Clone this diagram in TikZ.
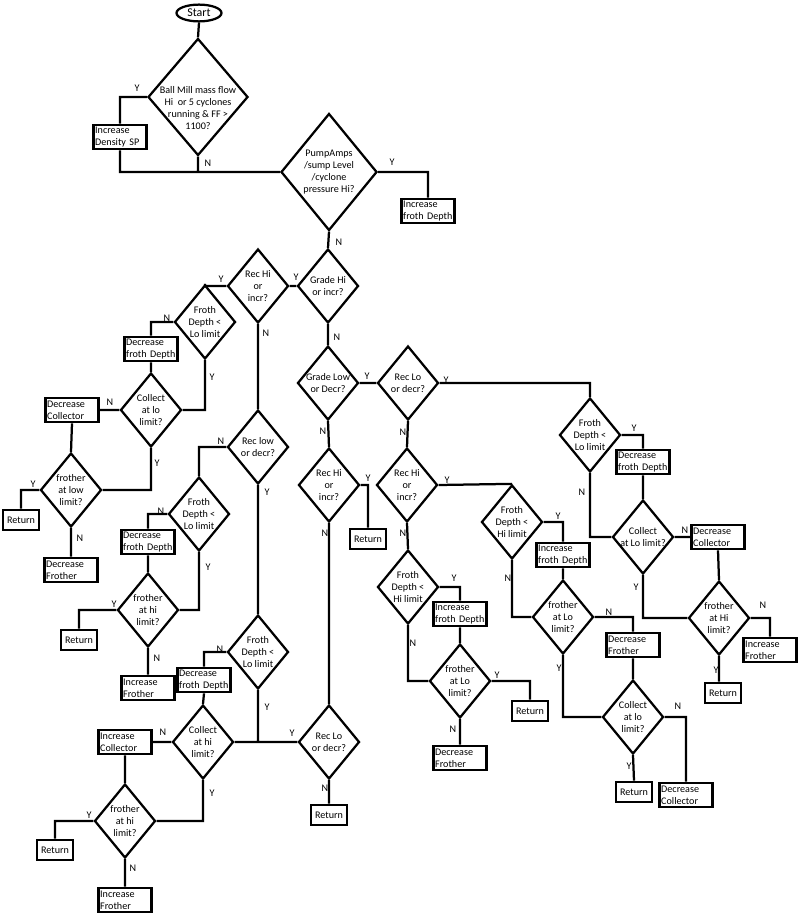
\documentclass[tikz,border=0pt]{standalone}
\usepackage{fontspec}
\setmainfont{Carlito}
\usetikzlibrary{shapes.geometric}
\begin{document}
\begin{tikzpicture}[x=0.025cm,y=-0.025cm,line width=1.6pt,
 font=\fontsize{7.2}{8.5}\selectfont,
 dec/.style={diamond,draw,inner sep=0pt,minimum width=1.525cm,minimum height=1.85cm},
 act/.style={rectangle,draw,line width=1.9pt,fill=white,text width=1.24cm,inner sep=1.2pt,minimum height=0.6cm,align=left},
 ret/.style={rectangle,draw,line width=1.9pt,fill=white,inner sep=1.5pt,minimum width=0.9cm,minimum height=0.5cm},
 txt/.style={align=center,inner sep=0pt}]
\useasboundingbox (0,0) rectangle (800,914);
\node[ellipse,draw,inner sep=0pt,minimum width=1.125cm,minimum height=0.42cm,font=\fontsize{8.5}{10}\selectfont] (start) at (199,13) {Start};
\node[dec,minimum width=2.5cm,minimum height=2.925cm,label={[txt,yshift=-0.28cm]center:{Ball Mill mass flow\\Hi~~or 5 cyclones\\running \& FF >\\1100?}}] (d1) at (198,97) {};
\node[act] (bdens) at (120,137) {Increase\\Density SP};
\node[dec,minimum width=2.4cm,minimum height=2.925cm,label={[txt]center:{PumpAmps\\/sump Level\\/cyclone\\pressure Hi?}}] (d2) at (329,172) {};
\node[act] (bfi1) at (428,211) {Increase\\froth Depth};
\node[dec,label={[txt]center:{Grade Hi\\or incr?}}] (gh) at (328,286) {};
\node[dec,label={[txt]center:{Rec Hi\\or\\incr?}}] (rh1) at (258,286) {};
\node[dec,label={[txt]center:{Froth\\Depth <\\Lo limit}}] (fd1) at (205,322) {};
\node[act] (bfd1) at (151,349) {Decrease\\froth Depth};
\node[dec,label={[txt]center:{Collect\\at lo\\limit?}}] (cl1) at (151,410) {};
\node[act] (bdc1) at (72,410) {Decrease\\Collector};
\node[dec,label={[txt]center:{frother\\at low\\limit?}}] (fl1) at (71,490) {};
\node[ret] (ret1) at (21,520) {Return};
\node[act] (bdf1) at (71,570) {Decrease\\Frother};
\node[dec,label={[txt]center:{Rec low\\or decr?}}] (rl1) at (258,447) {};
\node[dec,label={[txt]center:{Froth\\Depth <\\Lo limit}}] (fd2) at (199,514) {};
\node[act] (bfd2) at (148,542) {Decrease\\froth Depth};
\node[dec,label={[txt]center:{frother\\at hi\\limit?}}] (fh1) at (148,610) {};
\node[ret] (ret2) at (79,640) {Return};
\node[act] (bif1) at (148,688) {Increase\\Frother};
\node[dec,label={[txt]center:{Froth\\Depth <\\Lo limit}}] (fd3) at (258,652) {};
\node[act] (bfd3) at (204,680) {Decrease\\froth Depth};
\node[dec,label={[txt]center:{Collect\\at hi\\limit?}}] (ch1) at (203,742) {};
\node[act] (bic1) at (125,742) {Increase\\Collector};
\node[dec,label={[txt]center:{frother\\at hi\\limit?}}] (fh2) at (125,821) {};
\node[ret] (ret3) at (55,850) {Return};
\node[act] (bif2) at (125,900) {Increase\\Frother};
\node[dec,label={[txt]center:{Rec Lo\\or decr?}}] (rlo2) at (329,742) {};
\node[ret] (ret4) at (329,815) {Return};
\node[dec,label={[txt]center:{Grade Low\\or Decr?}}] (gl) at (328,383) {};
\node[dec,label={[txt]center:{Rec Lo\\or decr?}}] (rlo1) at (408,383) {};
\node[dec,label={[txt]center:{Rec Hi\\or\\incr?}}] (rh2) at (329,485) {};
\node[ret] (ret5) at (368,539) {Return};
\node[dec,label={[txt]center:{Rec Hi\\or\\incr?}}] (rh3) at (407,485) {};
\node[dec,label={[txt]center:{Froth\\Depth <\\Hi limit}}] (fhm) at (408,587) {};
\node[act] (bifd1) at (460,614) {Increase\\froth Depth};
\node[dec,label={[txt]center:{frother\\at Lo\\limit?}}] (flm) at (460,681) {};
\node[ret] (ret6) at (530,711) {Return};
\node[act] (bdf2) at (460,758) {Decrease\\Frother};
\node[dec,label={[txt]center:{Froth\\Depth <\\Lo limit}}] (fdr) at (590,435) {};
\node[act] (bfd4) at (643,462) {Decrease\\froth Depth};
\node[dec,label={[txt]center:{Collect\\at Lo limit?}}] (clr) at (643,537) {};
\node[act] (bdc2) at (718,537) {Decrease\\Collector};
\node[dec,label={[txt]center:{frother\\at Hi\\limit?}}] (fhr) at (719,618) {};
\node[act] (bif3) at (770,650) {Increase\\Frother};
\node[ret] (ret7) at (723,693) {Return};
\node[dec,label={[txt]center:{Froth\\Depth <\\Hi limit}}] (fhi2) at (512,522) {};
\node[act] (bifd2) at (563,555) {Increase\\froth Depth};
\node[dec,label={[txt]center:{frother\\at Lo\\limit?}}] (flr) at (563,617) {};
\node[act] (bdf3) at (633,645) {Decrease\\Frother};
\node[dec,label={[txt]center:{Collect\\at lo\\limit?}}] (clr2) at (633,717) {};
\node[ret] (ret8) at (634,792) {Return};
\node[act] (bdc3) at (686,795) {Decrease\\Collector};
\draw (start.south)--(d1.north)
 (d1.west)-|(bdens.north) (bdens.south)|-(d2.west) (d1.south)--(d1.south|-d2.west)
 (d2.east)-|(bfi1.north) (d2.south)--(gh.north)
 (gh.west)--(rh1.east) (rh1.west)-|(fd1.north)
 (fd1.west)-|(bfd1.north) (bfd1.south)--(cl1.north) (fd1.south)|-(cl1.east)
 (cl1.west)--(bdc1.east) (bdc1.south)--(fl1.north) (cl1.south)|-(fl1.east)
 (fl1.west)-|(ret1.north) (fl1.south)--(bdf1.north)
 (rh1.south)--(rl1.north) (rl1.west)-|(fd2.north)
 (fd2.west)-|(bfd2.north) (bfd2.south)--(fh1.north) (fd2.south)|-(fh1.east)
 (fh1.west)-|(ret2.north) (fh1.south)--(bif1.north)
 (rl1.south)--(fd3.north) (fd3.west)-|(bfd3.north) (bfd3.south)--(ch1.north)
 (fd3.south)--(fd3.south|-rlo2.west) (ch1.east)--(rlo2.west)
 (ch1.west)--(bic1.east) (bic1.south)--(fh2.north) (ch1.south)|-(fh2.east)
 (fh2.west)-|(ret3.north) (fh2.south)--(bif2.north)
 (rlo2.south)--(ret4.north)
 (gh.south)--(gl.north) (gl.east)--(rlo1.west) (rlo1.east)-|(fdr.north)
 (fdr.east)-|(bfd4.north) (bfd4.south)--(clr.north) (fdr.south)|-(clr.west)
 (clr.east)--(bdc2.west) (bdc2.south)--(fhr.north) (clr.south)|-(fhr.west)
 (fhr.east)-|(bif3.north) (fhr.south)--(fhr.south|-ret7.north)
 (gl.south)--(rh2.north) (rh2.east)-|(ret5.north) (rh2.south)--(rlo2.north)
 (rlo1.south)--(rh3.north) (rh3.east)--(fhi2.north)
 (fhi2.east)-|(bifd2.north) (bifd2.south)--(flr.north) (fhi2.south)|-(flr.west)
 (flr.east)-|(bdf3.north) (bdf3.south)--(clr2.north) (flr.south)|-(clr2.west)
 (clr2.east)-|(bdc3.north) (clr2.south)--(ret8.north)
 (rh3.south)--(fhm.north) (fhm.east)-|(bifd1.north) (bifd1.south)--(flm.north)
 (fhm.south)|-(flm.west) (flm.east)-|(ret6.north) (flm.south)--(bdf2.north);
\path (137,88)node{Y} (208,163)node{N}
 (392,162)node{Y} (339,242)node{N}
 (296,277)node{Y} (337,337)node{N}
 (221,279)node{Y} (266,333)node{N}
 (167,318)node{N} (212,377)node{Y}
 (110,402)node{N} (157,463)node{Y}
 (33,484)node{Y} (80,538)node{N}
 (221,441)node{N} (267,492)node{Y}
 (161,511)node{N} (208,567)node{Y}
 (114,604)node{Y} (157,658)node{N}
 (220,649)node{N} (267,707)node{Y}
 (292,733)node{Y} (325,788)node{N}
 (163,732)node{N} (212,793)node{Y}
 (89,815)node{Y} (133,868)node{N}
 (367,376)node{Y} (323,431)node{N}
 (446,380)node{Y} (403,432)node{N}
 (634,428)node{Y} (582,492)node{N}
 (685,530)node{N} (636,587)node{Y}
 (763,605)node{N} (716,670)node{Y}
 (368,478)node{Y} (325,533)node{N}
 (447,480)node{Y} (403,533)node{N}
 (558,516)node{Y} (508,578)node{N}
 (609,612)node{N} (559,668)node{Y}
 (678,706)node{N} (629,766)node{Y}
 (454,578)node{Y} (413,643)node{N}
 (497,675)node{Y} (453,729)node{N};
\end{tikzpicture}
\end{document}
